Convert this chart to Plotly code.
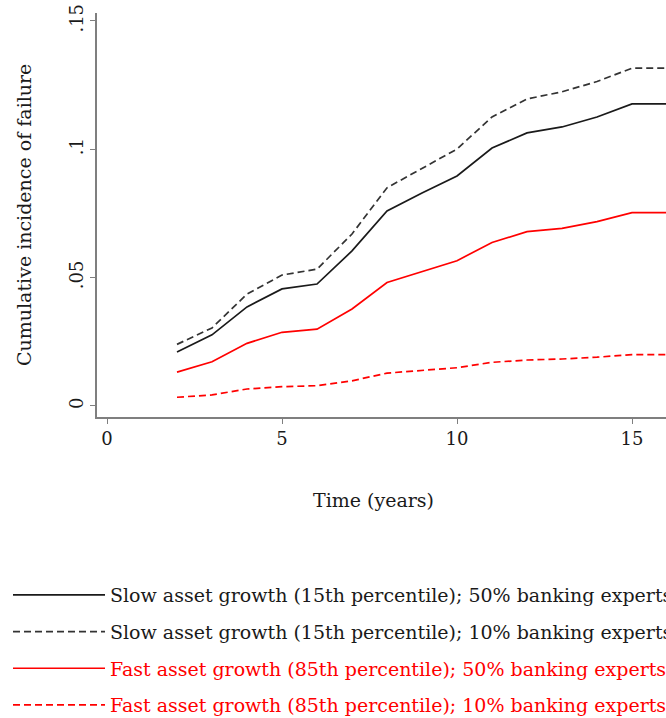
import plotly.graph_objects as go

years = [2, 3, 4, 5, 6, 7, 8, 9, 10, 11, 12, 13, 14, 15, 16]
slow_50 = [0.0210, 0.0277, 0.0386, 0.0456, 0.0475, 0.0604, 0.0760, 0.0830, 0.0896,
           0.1005, 0.1064, 0.1087, 0.1126, 0.1177, 0.1177]
slow_10 = [0.0240, 0.0304, 0.0436, 0.0510, 0.0533, 0.0670, 0.0850, 0.0927, 0.1001,
           0.1126, 0.1196, 0.1224, 0.1264, 0.1316, 0.1316]
fast_50 = [0.0132, 0.0172, 0.0244, 0.0287, 0.0299, 0.0378, 0.0481, 0.0523, 0.0566,
           0.0637, 0.0679, 0.0692, 0.0718, 0.0753, 0.0753]
fast_10 = [0.0034, 0.0043, 0.0066, 0.0075, 0.0079, 0.0098, 0.0128, 0.0138, 0.0149,
           0.0170, 0.0179, 0.0183, 0.0190, 0.0200, 0.0200]

names = [
    "Slow asset growth (15th percentile); 50% banking experts",
    "Slow asset growth (15th percentile); 10% banking experts",
    "Fast asset growth (85th percentile); 50% banking experts",
    "Fast asset growth (85th percentile); 10% banking experts",
]
x_ticks = [0, 5, 10, 15]
y_ticks = [0, 0.05, 0.10, 0.15]
y_labels = ["0", ".05", ".1", ".15"]
x_title = "Time (years)"
y_title = "Cumulative incidence of failure"

FONT = "DejaVu Serif"
BLACK = "#1a1a1a"
RED = "#ff0000"

series = [slow_50, slow_10, fast_50, fast_10]
colors = [BLACK, "#333333", RED, RED]
dashes = ["solid", "7px,4px", "solid", "7px,4px"]
text_colors = ["#1a1a1a", "#1a1a1a", "#ff0000", "#ff0000"]

fig = go.Figure()
for i, (ys, c, d, tc, n) in enumerate(zip(series, colors, dashes, text_colors, names)):
    fig.add_trace(go.Scatter(
        x=years, y=ys, mode="lines",
        line=dict(color=c, width=1.7, dash=d),
        name=f'<span style="color:{tc}">{n}</span>',
        legendgroup=f"g{i}",
    ))

L, T, B, W, H = 97, 13, 301, 666, 718
PW = W - L
PH = H - T - B

fig.update_layout(
    width=W, height=H,
    margin=dict(l=L, r=0, t=T, b=B, autoexpand=False),
    paper_bgcolor="white", plot_bgcolor="white",
    font=dict(family=FONT, size=18, color="#1a1a1a"),
    showlegend=True,
    legend=dict(
        xref="container", yref="container",
        x=8 / W, y=1 - 576 / H, xanchor="left", yanchor="top",
        font=dict(family=FONT, size=19),
        itemwidth=92,
        tracegroupgap=9,
        bgcolor="rgba(0,0,0,0)",
    ),
    xaxis=dict(
        range=[-0.2857, 15.971],
        tickvals=x_ticks,
        ticks="outside", ticklen=5, tickcolor="#7f7f7f", tickwidth=1,
        showline=True, linecolor="#7f7f7f", linewidth=1.5,
        showgrid=False, zeroline=False, automargin=False,
        tickfont=dict(family=FONT, size=18, color="#1a1a1a"),
    ),
    yaxis=dict(
        range=[-0.0043, 0.1531],
        tickvals=y_ticks, ticktext=y_labels, tickangle=-90,
        ticks="outside", ticklen=5, tickcolor="#7f7f7f", tickwidth=1,
        showline=True, linecolor="#7f7f7f", linewidth=1.5,
        showgrid=False, zeroline=False, automargin=False,
        tickfont=dict(family=FONT, size=18, color="#1a1a1a"),
    ),
    annotations=[
        dict(text=x_title, xref="paper", yref="paper",
             x=(373 - L) / PW, y=-(500 - (T + PH)) / PH,
             xanchor="center", yanchor="middle", showarrow=False,
             font=dict(family=FONT, size=19, color="#1a1a1a")),
        dict(text=y_title, xref="paper", yref="paper",
             x=(24 - L) / PW, y=0.5, textangle=-90,
             xanchor="center", yanchor="middle", showarrow=False,
             font=dict(family=FONT, size=19, color="#1a1a1a")),
    ],
)

fig.write_html("out.html")
